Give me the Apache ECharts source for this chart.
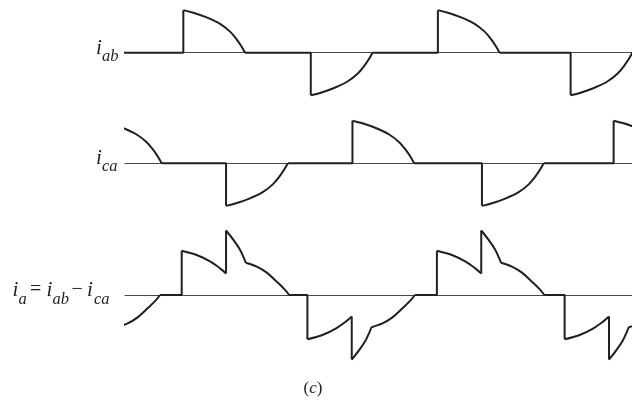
<!DOCTYPE html>
<html>
<head>
<meta charset="utf-8">
<script src="https://cdn.jsdelivr.net/npm/echarts@6/dist/echarts.min.js"></script>
<style>
  html, body { margin: 0; padding: 0; background: #fff; }
  #chart { width: 632px; height: 401px; }
</style>
</head>
<body>
<div id="chart"></div>
<script>
// x is wt in degrees, y is current in units of one pulse step

// one chopped half-wave pulse of a line current (i_ab, i_ca)
const pulseDeg = [0, 14.2, 33.0, 52.0, 66.2, 75.5, 82.6, 87.4]
const pulseAmp = [0.99, 0.93, 0.82, 0.67, 0.49, 0.31, 0.14, 0]
const pulsePieces = [[0, 7]]

// one half-wave of i_a = i_ab - i_ca (two overlapping pulses)
const sumDeg = [0, 21.3, 40.1, 54.3, 62.8, 62.8, 73.3, 82.6, 88.3, 90.7, 106.3, 120.5, 134.6, 146.4, 152.1]
const sumAmp = [1.03, 0.93, 0.78, 0.62, 0.50, 1.50, 1.28, 1.05, 0.85, 0.75, 0.66, 0.52, 0.31, 0.12, 0]
const sumPieces = [[0, 4], [5, 9], [9, 14]] // jump between 4 and 5, kink at 9

// where each pulse starts and its sign
const abOnset = [92.6, 273.1, 453.1, 641.1]
const abSign = [1, -1, 1, -1]
const caOnset = [-25.5, 153.1, 332.1, 515.5, 702]
const caSign = [1, -1, 1, -1, 1]
const aOnset = [-92.6, 90.3, 268.3, 451.7, 632.6]
const aSign = [-1, 1, -1, 1, -1]

const xMin = 10
const xMax = 728

// straight parts (zero stretches + jumps) and curved parts as two data lists
const buildTrace = (onsets, signs, deg, amp, pieces) => {
  const flat = [[-400, 0]]
  const curve = []
  onsets.forEach((t0, k) => {
    const s = signs[k]
    flat.push([t0, 0], [t0, s * amp[0]], null)
    pieces.forEach((p, j) => {
      for (let i = p[0]; i <= p[1]; i++) curve.push([t0 + deg[i], s * amp[i]])
      curve.push(null)
      const next = pieces[j + 1]
      if (next && next[0] !== p[1]) {
        flat.push([t0 + deg[p[1]], s * amp[p[1]]], [t0 + deg[next[0]], s * amp[next[0]]], null)
      }
    })
    flat.push([t0 + deg[deg.length - 1], 0])
  })
  flat.push([1000, 0])
  return { flat, curve }
}

const traces = [
  buildTrace(abOnset, abSign, pulseDeg, pulseAmp, pulsePieces),
  buildTrace(caOnset, caSign, pulseDeg, pulseAmp, pulsePieces),
  buildTrace(aOnset, aSign, sumDeg, sumAmp, sumPieces),
]

const grids = [
  { left: 125, right: 0, top: 1.1, height: 103.2 },
  { left: 125, right: 0, top: 111.7, height: 103.2 },
  { left: 125, right: 0, top: 226.2, height: 137.6 },
]
const yLimits = [1.2, 1.2, 1.6]

const ink = '#231f20'
const waveStyle = { color: ink, width: 2 }

const series = []
traces.forEach((tr, k) => {
  series.push({
    type: 'line', xAxisIndex: k, yAxisIndex: k, data: tr.flat,
    showSymbol: false, connectNulls: false, lineStyle: waveStyle, z: 3,
  })
  series.push({
    type: 'line', xAxisIndex: k, yAxisIndex: k, data: tr.curve,
    smooth: 0.35, showSymbol: false, connectNulls: false, lineStyle: waveStyle, z: 3,
  })
})

const serif = 'Liberation Serif, Times New Roman, serif'
const label = (text, x, y, size, italic) => ({
  type: 'text', x: x, y: y, silent: true,
  style: {
    text: text, fill: ink,
    font: (italic ? 'italic ' : '') + size + 'px ' + serif,
    align: 'left', textAlign: 'left', verticalAlign: 'middle', textVerticalAlign: 'middle',
  },
})

const chart = echarts.init(document.getElementById('chart'))
chart.setOption({
  animation: false,
  grid: grids,
  xAxis: grids.map((g, k) => ({
    type: 'value', gridIndex: k, min: xMin, max: xMax,
    axisLine: { show: true, onZero: true, lineStyle: { color: '#4a4a4a', width: 1 } },
    axisTick: { show: false }, axisLabel: { show: false }, splitLine: { show: false },
  })),
  yAxis: grids.map((g, k) => ({
    type: 'value', gridIndex: k, min: -yLimits[k], max: yLimits[k], show: false,
    splitLine: { show: false },
  })),
  series: series,
  graphic: [
    label('i', 96, 48, 21, true),
    label('ab', 102, 56.5, 16.5, true),
    label('i', 96, 158.5, 21, true),
    label('ca', 102, 166.5, 16.5, true),
    label('i', 12.5, 290, 21, true),
    label('a', 18.5, 299.5, 16.5, true),
    label('=', 30, 290, 20, false),
    label('i', 46.5, 290, 21, true),
    label('ab', 52.5, 299.5, 16.5, true),
    label('\u2212', 71.5, 290, 20, false),
    label('i', 87, 290, 21, true),
    label('ca', 94, 299.5, 16.5, true),
    {
      type: 'text', x: 313, y: 389, silent: true,
      style: {
        text: '({c|c})', fill: ink, font: '17px ' + serif,
        align: 'center', textAlign: 'center', verticalAlign: 'middle', textVerticalAlign: 'middle',
        rich: { c: { fontStyle: 'italic', fontSize: 17, fontFamily: serif, fill: ink } },
      },
    },
  ],
})
</script>
</body>
</html>
